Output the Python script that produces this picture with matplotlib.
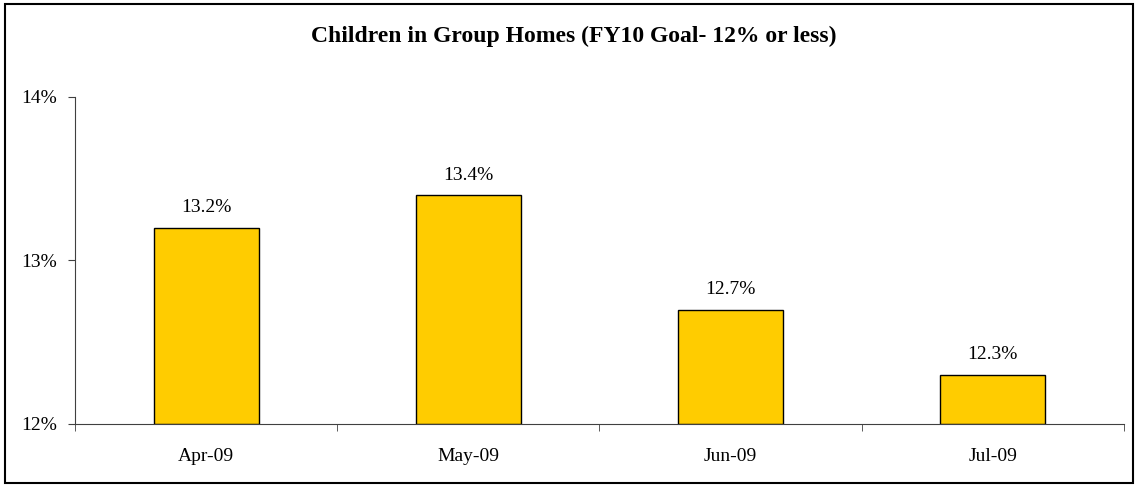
import matplotlib.pyplot as plt
from matplotlib.patches import Rectangle
from matplotlib.ticker import FixedLocator, NullFormatter

plt.rcParams['font.family'] = ['Liberation Serif', 'DejaVu Serif']

months = ["Apr-09", "May-09", "Jun-09", "Jul-09"]
values = [13.2, 13.4, 12.7, 12.3]
labels = ["13.2%", "13.4%", "12.7%", "12.3%"]
y_ticks = [12, 13, 14]

fig = plt.figure(figsize=(11.38, 4.87), dpi=100)
ax = fig.add_axes([0.0659, 0.1294, 0.9218, 0.6715])

x = list(range(len(months)))
ax.bar(x, [v - 12 for v in values], bottom=12, width=0.4,
       color="#FFCC00", edgecolor="black", linewidth=1)

for xi, v, lab in zip(x, values, labels):
    ax.text(xi, v + 0.07, lab, ha="center", va="bottom", fontsize=14)

ax.set_xlim(-0.5, len(months) - 0.5)
ax.set_ylim(12, 14)
ax.set_yticks(y_ticks)
ax.set_yticklabels([f"{t}%" for t in y_ticks], fontsize=14)
ax.set_xticks(x)
ax.set_xticklabels(months, fontsize=14)
ax.tick_params(axis="x", which="major", length=0, pad=17)
ax.xaxis.set_minor_locator(FixedLocator([i - 0.5 for i in range(len(months) + 1)]))
ax.xaxis.set_minor_formatter(NullFormatter())
ax.tick_params(axis="x", which="minor", length=5, direction="out", color="#404040")
ax.tick_params(axis="y", length=5, direction="out", color="#404040", pad=8)

for s in ["top", "right"]:
    ax.spines[s].set_visible(False)
ax.spines["left"].set_color("#404040")
ax.spines["bottom"].set_color("#404040")

fig.text(0.5044, 0.9138, "Children in Group Homes (FY10 Goal- 12% or less)",
         ha="center", va="baseline", fontsize=17, fontweight="bold")

fig.patches.append(Rectangle((5 / 1138, 4 / 487), 1128 / 1138, 479 / 487,
                             transform=fig.transFigure, fill=False,
                             edgecolor="black", linewidth=1.5))

fig.savefig("out.png", dpi=100)
